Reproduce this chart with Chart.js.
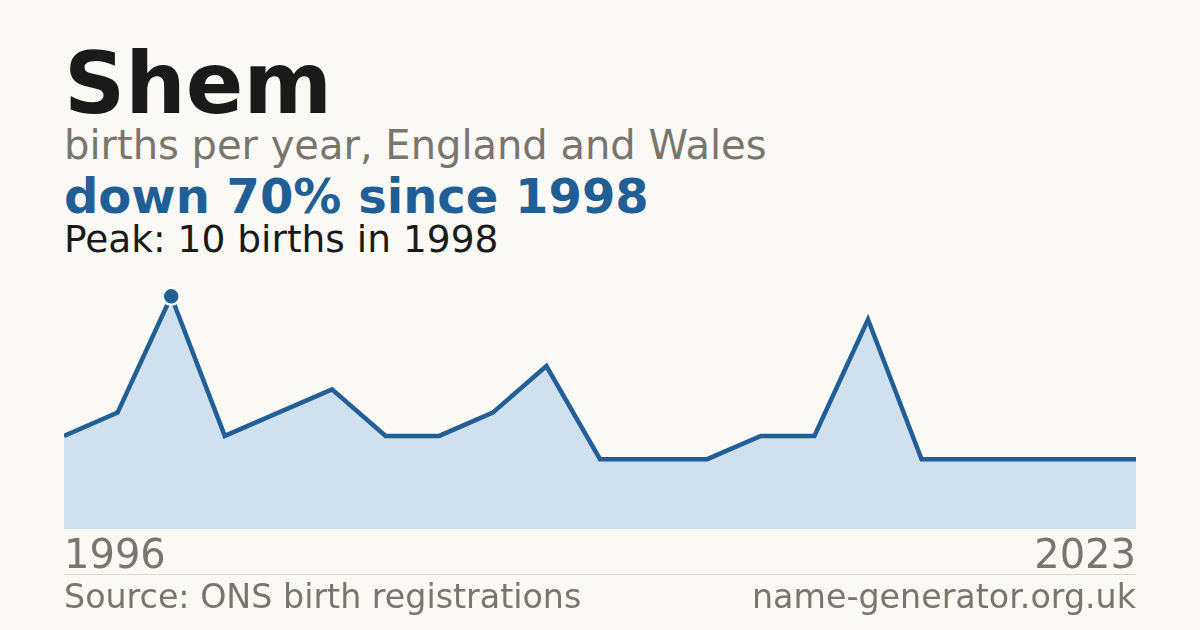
<!DOCTYPE html>
<html>
<head>
<meta charset="utf-8">
<script src="https://cdn.jsdelivr.net/npm/chart.js@4/dist/chart.umd.min.js"></script>
<style>
  html, body { margin: 0; padding: 0; background: #faf9f5; }
  #page { position: relative; width: 1200px; height: 630px; overflow: hidden; font-family: "DejaVu Sans", sans-serif; }
  .txt { position: absolute; left: 64px; white-space: nowrap; line-height: 1; }
  #titulo { top: 41px; font-size: 85px; font-weight: bold; color: #1a1a1a; }
  #sub { top: 125px; font-size: 40px; color: #7a756d; }
  #cambio { top: 172px; font-size: 48px; font-weight: bold; color: #1f5f96; }
  #pico { top: 221px; font-size: 37.5px; color: #1a1a1a; }
  #linea { position: absolute; left: 64px; width: 1072px; top: 574px; height: 1px; background: #dddad3; }
  .pie { position: absolute; top: 580px; font-size: 33.3px; color: #7a756d; white-space: nowrap; line-height: 1; }
  #fuente { left: 64px; }
  #sitio { right: 64px; }
  #grafico { position: absolute; left: 64px; top: 262px; width: 1072px; height: 325px; }
</style>
</head>
<body>
<div id="page">
  <div class="txt" id="titulo">Shem</div>
  <div class="txt" id="sub">births per year, England and Wales</div>
  <div class="txt" id="cambio">down 70% since 1998</div>
  <div class="txt" id="pico">Peak: 10 births in 1998</div>
  <div id="grafico"><canvas id="cv"></canvas></div>
  <div id="linea"></div>
  <div class="pie" id="fuente">Source: ONS birth registrations</div>
  <div class="pie" id="sitio">name-generator.org.uk</div>
</div>
<script>
// datos
const anios = [1996, 1997, 1998, 1999, 2000, 2001, 2002, 2003, 2004, 2005, 2006,
               2008, 2010, 2012, 2013, 2014, 2016, 2018, 2020, 2022, 2023];
const nacimientos = [4, 5, 10, 4, 5, 6, 4, 4, 5, 7, 3, 3, 3, 4, 4, 9, 3, 3, 3, 3, 3];
const anioPico = 1998;

const azul = "#235f97";

// solo el pico lleva punto
const radios = anios.map(a => (a === anioPico ? 8.5 : 0));
const bordes = anios.map(a => (a === anioPico ? 2.5 : 0));

new Chart(document.getElementById("cv"), {
  type: "line",
  data: {
    labels: anios,
    datasets: [{
      data: nacimientos,
      borderColor: azul,
      borderWidth: 4.5,
      backgroundColor: "#d0e0ef",
      fill: "origin",
      tension: 0,
      pointRadius: radios,
      pointHoverRadius: radios,
      pointBackgroundColor: azul,
      pointBorderColor: "#ffffff",
      pointBorderWidth: bordes,
      clip: false
    }]
  },
  options: {
    responsive: true,
    maintainAspectRatio: false,
    animation: false,
    layout: { autoPadding: false, padding: { top: 11, left: 0, right: 0, bottom: 0 } },
    plugins: { legend: { display: false }, tooltip: { enabled: false } },
    scales: {
      x: {
        offset: false,
        grid: { display: false, drawTicks: false },
        border: { display: false },
        // las etiquetas van hacia dentro, asi que no hace falta margen lateral
        afterFit: (escala) => {
          escala.paddingLeft = 0;
          escala.paddingRight = 0;
        },
        ticks: {
          autoSkip: false,
          maxRotation: 0,
          align: "inner",
          padding: 9,
          color: "#7a756d",
          font: { family: "DejaVu Sans", size: 40, lineHeight: 1 },
          callback: function (valor, i, ticks) {
            if (i === 0 || i === ticks.length - 1) return this.getLabelForValue(valor);
            return null;
          }
        }
      },
      y: {
        display: false,
        min: 0,
        max: 11
      }
    }
  }
});
</script>
</body>
</html>
